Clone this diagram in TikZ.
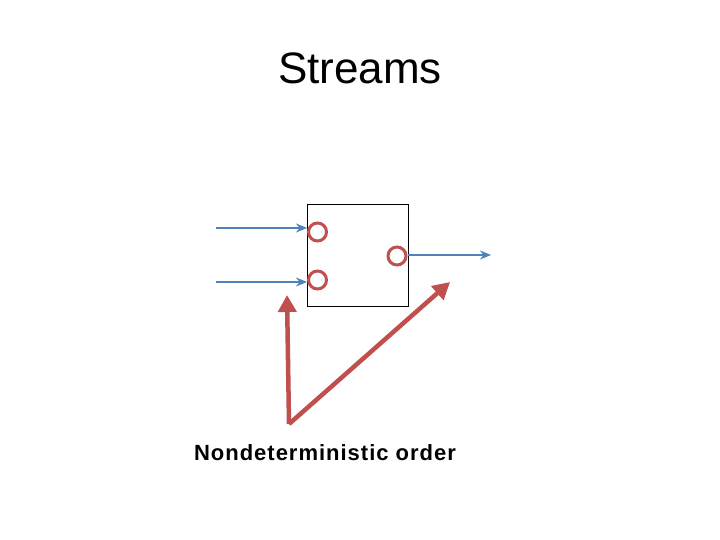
\documentclass[tikz,border=0pt]{standalone}
\usepackage{fontspec}
\setmainfont{Liberation Sans}
\usetikzlibrary{arrows.meta}
\definecolor{streamblue}{HTML}{4F81BD}
\definecolor{orderred}{HTML}{C0504D}

\begin{document}
\begin{tikzpicture}[x=1pt, y=-1pt,
        port/.style = {draw=orderred, circle, line width=3pt, minimum size=18pt, inner sep=0pt},
        flow/.style = {streamblue, line width=2.8pt, -{Stealth[length=11pt, width=9pt]}},
        choice/.style = {orderred, line width=4.5pt, -{Triangle[length=17pt, width=18pt]}} ]
        \useasboundingbox (0,0) rectangle (720,540);

        \node at (360, 68) (title) {\fontsize{44}{52}\selectfont Streams};
        \node at (357.5, 255) [draw, line width=0.8pt, minimum width=101pt, minimum height=102pt, inner sep=0pt] (box) {};

        \node at (317.5, 232) [port] (in1) {};
        \node at (317.5, 280) [port] (in2) {};
        \node at (397, 256) [port] (out) {};

        \coordinate (src1) at (216, 228);
        \coordinate (src2) at (216, 282);
        \coordinate (sink) at (491, 255);

        \draw[flow] (src1) -- (src1 -| in1.west);
        \draw[flow] (src2) -- (src2 -| in2.west);
        \draw[flow] (out.east |- sink) -- (sink);

        \coordinate (apex) at (289, 424);
        \coordinate (tipa) at (287, 295);
        \coordinate (tipb) at (450, 282);
        \draw[choice] (apex) -- (tipa);
        \draw[choice] (apex) -- (tipb);

        \node at (325, 453) (label) {\fontsize{22}{26}\selectfont\bfseries\addfontfeature{LetterSpace=4.5}Nondeterministic order};

    \end{tikzpicture}
\end{document}
